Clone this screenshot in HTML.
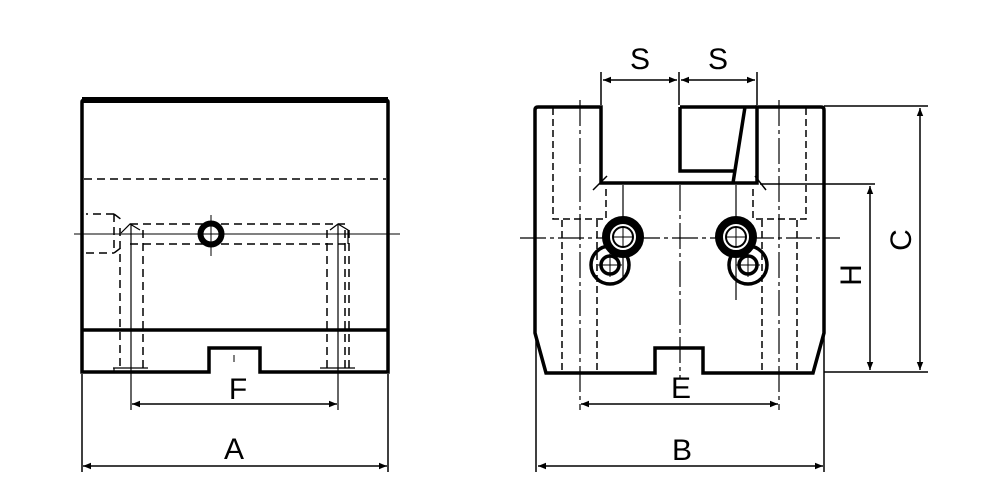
<!DOCTYPE html>
<html><head><style>body{margin:0;background:#fff}svg{display:block}</style></head><body>
<svg width="1000" height="500" viewBox="0 0 1000 500" xmlns="http://www.w3.org/2000/svg" font-family="Liberation Sans, sans-serif">
<defs>
<marker id="ar" viewBox="0 0 10 10" refX="10" refY="5" markerWidth="10" markerHeight="8" markerUnits="userSpaceOnUse" orient="auto-start-reverse"><path d="M0,1 L10,5 L0,9 z" fill="#000"/></marker>
</defs>
<g fill="none" stroke="#000">
<!-- LEFT VIEW -->
<path d="M82,372 V102 Q82,100 85,100 H385 Q388,100 388,102 V372 H260 V348 H209 V372 Z" stroke-width="3.5"/>
<line x1="82" y1="100" x2="388" y2="100" stroke-width="6"/>
<line x1="82" y1="330" x2="388" y2="330" stroke-width="3.5"/>
<g stroke-width="1.5" stroke-dasharray="8,5">
<line x1="84" y1="179" x2="386" y2="179"/>
<line x1="130" y1="224" x2="345" y2="224"/>
<line x1="130" y1="244" x2="345" y2="244"/>
<path d="M114,214 H86 M86,253 H114 M114,214 V253 M114,214 L122,220 M114,253 L122,247"/>
<line x1="120" y1="228" x2="120" y2="370"/>
<line x1="143" y1="230" x2="143" y2="370"/>
<line x1="327" y1="230" x2="327" y2="370"/>
<line x1="349" y1="230" x2="349" y2="370"/>
<line x1="345" y1="230" x2="345" y2="370"/>
</g>
<path d="M121,233 L130,224 L140,230 M330,230 L338,224 L348,230 L348,244" stroke-width="1.2"/>
<path d="M113,368 H148 M114,368 V372 M320,368 H355" stroke-width="1.2"/>
<line x1="131" y1="225" x2="131" y2="410" stroke-width="1.2"/>
<line x1="338" y1="225" x2="338" y2="410" stroke-width="1.2"/>
<line x1="234" y1="355" x2="234" y2="362" stroke-width="1"/>
<line x1="74" y1="234" x2="400" y2="234" stroke-width="1"/>
<line x1="211" y1="215" x2="211" y2="256" stroke-width="1"/>
<circle cx="211" cy="234" r="10.5" stroke-width="6"/>
<!-- dims left -->
<line x1="82" y1="374" x2="82" y2="472" stroke-width="1.5"/>
<line x1="388" y1="374" x2="388" y2="472" stroke-width="1.5"/>
<line x1="83" y1="466" x2="387" y2="466" stroke-width="1.5" marker-start="url(#ar)" marker-end="url(#ar)"/>
<line x1="132" y1="404" x2="337" y2="404" stroke-width="1.5" marker-start="url(#ar)" marker-end="url(#ar)"/>

<!-- RIGHT VIEW -->
<path d="M535,333 V110 Q535,107 538,107 H601 V183 H757 V107 H821 Q824,107 824,110 V333 L813,373 H703 V348 H655 V373 H546 Z" stroke-width="3.5"/>
<path d="M680,107 H757 M680,107 V171 H734 M745,107 L733,183" stroke-width="3.5"/>
<g stroke-width="1.5" stroke-dasharray="7,4">
<path d="M553,108 V219 H606 V186"/>
<path d="M806,108 V219 H753 V186"/>
<line x1="562" y1="220" x2="562" y2="370"/>
<line x1="597" y1="220" x2="597" y2="370"/>
<line x1="762" y1="220" x2="762" y2="370"/>
<line x1="797" y1="220" x2="797" y2="370"/>
</g>
<g stroke-width="1.2" stroke-dasharray="26,4,4,4">
<line x1="580" y1="100" x2="580" y2="410"/>
<line x1="779" y1="100" x2="779" y2="410"/>
<line x1="680" y1="185" x2="680" y2="378"/>
<line x1="520" y1="238" x2="840" y2="238"/>
</g>
<line x1="623" y1="185" x2="623" y2="280" stroke-width="1.2"/>
<line x1="736" y1="185" x2="736" y2="300" stroke-width="1.2"/>
<path d="M593,190 L607,176 M755,176 L766,190" stroke-width="1.5"/>
<circle cx="610" cy="265" r="19" stroke-width="3.5"/>
<circle cx="610" cy="265" r="9" stroke-width="3.5"/>
<circle cx="748" cy="265" r="19" stroke-width="3.5"/>
<circle cx="748" cy="265" r="9" stroke-width="3.5"/>
<circle cx="623" cy="237" r="17" stroke-width="8" fill="#fff"/>
<circle cx="623" cy="237" r="10" stroke-width="2"/>
<circle cx="736" cy="237" r="17" stroke-width="8" fill="#fff"/>
<circle cx="736" cy="237" r="10" stroke-width="2"/>
<path d="M610,253 V277 M598,265 H622 M748,253 V277 M736,265 H760 M623,227 V247 M613,237 H633 M736,227 V247 M726,237 H746" stroke-width="1"/>
<!-- dims right -->
<line x1="536" y1="335" x2="536" y2="472" stroke-width="1.5"/>
<line x1="824" y1="335" x2="824" y2="472" stroke-width="1.5"/>
<line x1="538" y1="466" x2="823" y2="466" stroke-width="1.5" marker-start="url(#ar)" marker-end="url(#ar)"/>
<line x1="581" y1="404" x2="778" y2="404" stroke-width="1.5" marker-start="url(#ar)" marker-end="url(#ar)"/>
<line x1="601" y1="72" x2="601" y2="105" stroke-width="1.5"/>
<line x1="679" y1="72" x2="679" y2="105" stroke-width="1.5"/>
<line x1="757" y1="72" x2="757" y2="105" stroke-width="1.5"/>
<line x1="603" y1="80" x2="677" y2="80" stroke-width="1.5" marker-start="url(#ar)" marker-end="url(#ar)"/>
<line x1="681" y1="80" x2="755" y2="80" stroke-width="1.5" marker-start="url(#ar)" marker-end="url(#ar)"/>
<line x1="824" y1="106" x2="928" y2="106" stroke-width="1.5"/>
<line x1="824" y1="372" x2="928" y2="372" stroke-width="1.5"/>
<line x1="760" y1="184" x2="875" y2="184" stroke-width="1.5"/>
<line x1="920" y1="108" x2="920" y2="370" stroke-width="1.5" marker-start="url(#ar)" marker-end="url(#ar)"/>
<line x1="870" y1="186" x2="870" y2="370" stroke-width="1.5" marker-start="url(#ar)" marker-end="url(#ar)"/>
</g>
<g font-size="30" text-anchor="middle" fill="#000">
<text x="234" y="459">A</text>
<text x="238" y="399">F</text>
<text x="682" y="460">B</text>
<text x="681" y="398">E</text>
<text x="640" y="69">S</text>
<text x="718" y="69">S</text>
<text transform="translate(911,240) rotate(-90)">C</text>
<text transform="translate(861,275) rotate(-90)">H</text>
</g>
</svg>
</body></html>
